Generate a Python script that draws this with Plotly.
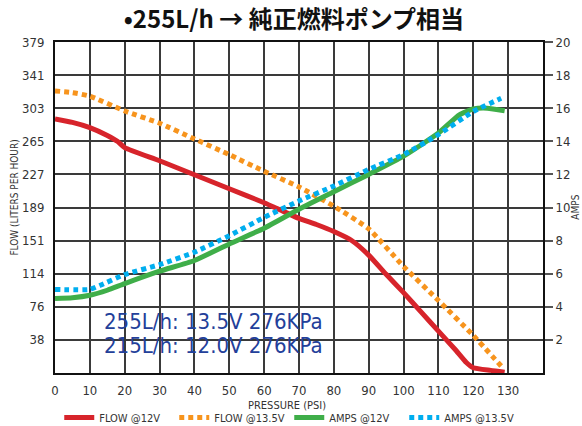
import plotly.graph_objects as go

# ---- data ----
flow12_psi = [0, 5, 10, 15, 18, 20, 30, 40, 50, 60, 65, 70, 75, 80, 85, 90, 95, 100, 105, 110, 115, 118, 120, 125, 129]
flow12_val = [291, 287, 281, 272, 265, 258, 243, 227, 211, 195, 186, 177, 170, 162, 152, 135, 113, 92, 70, 48, 26, 12, 6, 3, 1]

flow135_psi = [0, 5, 10, 20, 30, 40, 50, 60, 70, 80, 90, 100, 110, 120, 128]
flow135_val = [323, 321, 317, 300, 286, 268, 250, 231, 213, 191, 165, 122, 83, 43, 8]

amps12_psi = [0, 5, 10, 15, 20, 30, 40, 50, 60, 70, 80, 90, 100, 110, 116, 120, 124, 129]
amps12_val = [4.5, 4.55, 4.7, 5.0, 5.4, 6.15, 6.8, 7.8, 8.75, 9.9, 10.95, 12.0, 13.1, 14.5, 15.6, 15.95, 16.0, 15.85]

amps135_psi = [0, 10, 13, 20, 30, 40, 50, 60, 70, 80, 90, 100, 110, 120, 128]
amps135_val = [5.05, 5.05, 5.3, 5.95, 6.55, 7.3, 8.3, 9.4, 10.4, 11.3, 12.3, 13.2, 14.4, 15.8, 16.6]

x_ticks = [0, 10, 20, 30, 40, 50, 60, 70, 80, 90, 100, 110, 120, 130]
flow_tick_vals = [37.9, 75.8, 113.7, 151.6, 189.5, 227.4, 265.3, 303.2, 341.1, 379]
flow_tick_text = ["38", "76", "114", "151", "189", "227", "265", "303", "341", "379"]
amps_ticks = [2, 4, 6, 8, 10, 12, 14, 16, 18, 20]

notes = ["255L/h: 13.5V 276KPa", "215L/h: 12.0V 276KPa"]
note_y = [59, 31]
title_text = "•255L/h → 純正燃料ポンプ相当"

# ---- styling ----
RED = "#d7242b"
ORANGE = "#f7941d"
GREEN = "#3fae49"
BLUE = "#00aeef"
NAVY = "#23409a"
GRID = "#3a3a3a"
FONT = "DejaVu Sans Condensed, Liberation Sans Narrow, Arial Narrow, sans-serif"

fig = go.Figure()
fig.add_trace(go.Scatter(x=flow12_psi, y=flow12_val, name="FLOW @12V", mode="lines",
                         line=dict(color=RED, width=5, shape="spline", smoothing=0.5)))
fig.add_trace(go.Scatter(x=flow135_psi, y=flow135_val, name="FLOW @13.5V", mode="lines",
                         line=dict(color=ORANGE, width=5, dash="5px,4px", shape="spline", smoothing=0.5)))
fig.add_trace(go.Scatter(x=amps12_psi, y=amps12_val, name="AMPS @12V", mode="lines", yaxis="y2",
                         line=dict(color=GREEN, width=5, shape="spline", smoothing=0.5)))
fig.add_trace(go.Scatter(x=amps135_psi, y=amps135_val, name="AMPS @13.5V", mode="lines", yaxis="y2",
                         line=dict(color=BLUE, width=5, dash="5px,4px", shape="spline", smoothing=0.5)))

annotations = []
for txt, yv in zip(notes, note_y):
    annotations.append(dict(x=13.5, y=yv, xref="x", yref="y", text=txt, showarrow=False,
                            xanchor="left", yanchor="middle",
                            font=dict(family=FONT, size=22, color=NAVY)))
annotations.append(dict(x=-0.082, y=0.53, xref="paper", yref="paper", text="FLOW (LITERS PER HOUR)",
                        showarrow=False, textangle=-90, xanchor="center", yanchor="middle",
                        font=dict(family=FONT, size=10, color="#333")))
annotations.append(dict(x=1.066, y=0.5, xref="paper", yref="paper", text="AMPS",
                        showarrow=False, textangle=-90, xanchor="center", yanchor="middle",
                        font=dict(family=FONT, size=10, color="#333")))
annotations.append(dict(x=0.475, y=-0.097, xref="paper", yref="paper", text="PRESSURE (PSI)",
                        showarrow=False, xanchor="center", yanchor="middle",
                        font=dict(family=FONT, size=11, color="#333")))

fig.update_layout(
    width=582, height=426,
    margin=dict(l=55, r=39, t=42, b=53, autoexpand=False),
    paper_bgcolor="white", plot_bgcolor="white",
    title=dict(text=title_text, x=0.505, xanchor="center", y=0.953, yanchor="middle",
               font=dict(family="Noto Sans CJK JP", size=24, color="#111", weight="bold")),
    xaxis=dict(range=[0, 140], tickvals=x_ticks, showgrid=True, gridcolor=GRID, gridwidth=1.5,
               showline=True, linecolor="#111", linewidth=2, mirror=True, zeroline=False,
               ticks="", ticklabelstandoff=4, automargin=False,
               tickfont=dict(family=FONT, size=13, color="#333")),
    yaxis=dict(range=[0, 379], tickvals=flow_tick_vals, ticktext=flow_tick_text, showgrid=True,
               gridcolor=GRID, gridwidth=1.5, showline=True, linecolor="#111", linewidth=2,
               mirror=True, zeroline=False, ticks="", ticklabelstandoff=6, automargin=False,
               tickfont=dict(family=FONT, size=13, color="#333")),
    yaxis2=dict(range=[0, 20], tickvals=amps_ticks, overlaying="y", side="right", showgrid=False,
                showline=True, linecolor="#111", linewidth=2, zeroline=False, automargin=False,
                ticks="outside", ticklen=8, tickcolor="#555", tickwidth=1.5,
                tickfont=dict(family=FONT, size=13, color="#333")),
    legend=dict(orientation="h", xref="container", yref="container", x=0.497, xanchor="center",
                y=0.02, yanchor="middle",
                font=dict(family=FONT, size=11, color="#333"), entrywidth=70, itemwidth=30,
                tracegroupgap=0, bgcolor="rgba(0,0,0,0)"),
    annotations=annotations,
)

fig.write_html("out.html", config={"displayModeBar": False},
               post_script="document.body.style.margin='0';")
